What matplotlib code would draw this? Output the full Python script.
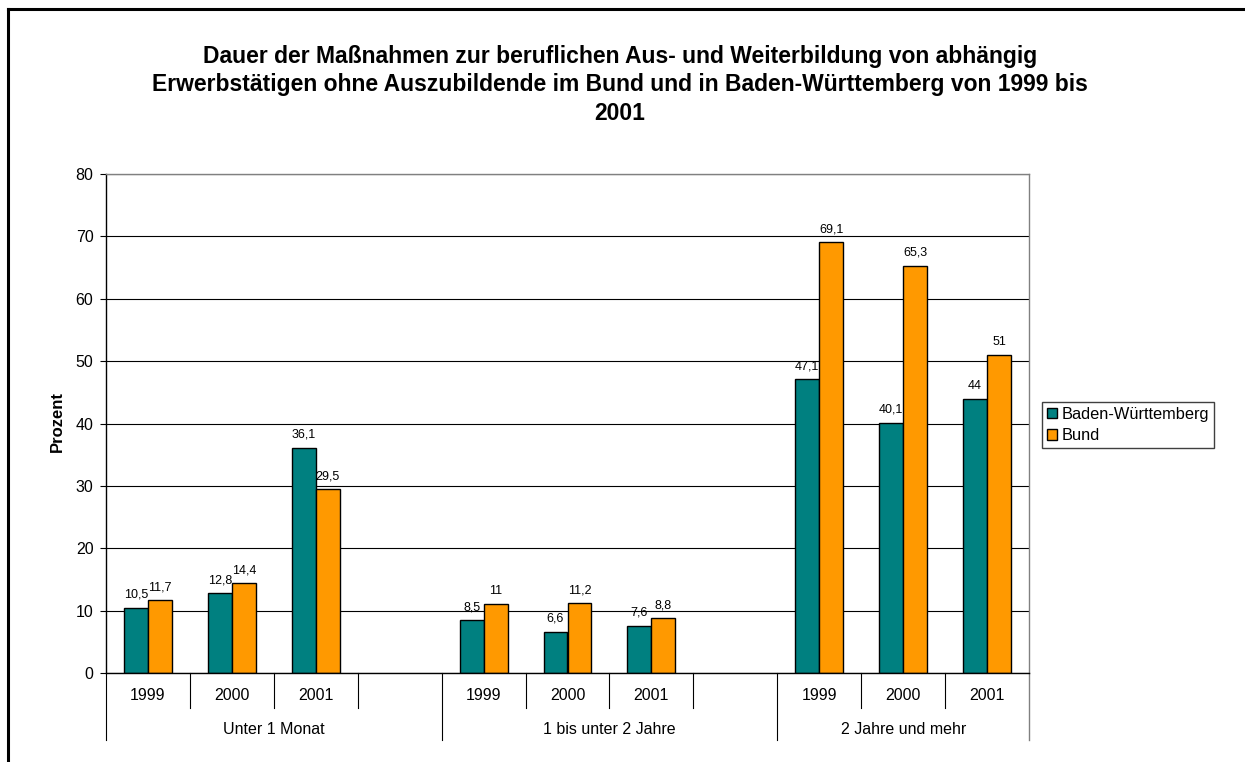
'''
Dauer der Massnahmen zur beruflichen Aus- und Weiterbildung
Excel-style grouped bar chart with two-level category axis
'''
import matplotlib
matplotlib.use("Agg")
import matplotlib.pyplot as plt
from matplotlib.lines import Line2D
from matplotlib.patches import Patch
import matplotlib.transforms as mtransforms

plt.rcParams['font.family'] = ['Liberation Sans', 'DejaVu Sans']

# data
groups = ["Unter 1 Monat", "1 bis unter 2 Jahre", "2 Jahre und mehr"]
years = ["1999", "2000", "2001"]
series_names = ["Baden-Württemberg", "Bund"]
bw = [10.5, 12.8, 36.1, 8.5, 6.6, 7.6, 47.1, 40.1, 44]
bund = [11.7, 14.4, 29.5, 11, 11.2, 8.8, 69.1, 65.3, 51]
yticks = [0, 10, 20, 30, 40, 50, 60, 70, 80]

colors = ["#008080", "#FF9900"]

W, H = 1245, 762
fig = plt.figure(figsize=(W / 100, H / 100), dpi=100)
ax = fig.add_axes([106 / W, 1 - 673 / H, (1029 - 106) / W, (673 - 174) / H])

# slot positions: 4 slots per group, last group has 3
slots = [4 * g + i for g in range(len(groups)) for i in range(len(years))]
bar_w = 24 / 84

def fmt(v):
    return f"{v:g}".replace(".", ",")

for k, (vals, col) in enumerate(zip([bw, bund], colors)):
    xs = [s + (k - 0.5) * bar_w for s in slots]
    ax.bar(xs, vals, width=bar_w, color=col, edgecolor="black",
           linewidth=1.0, zorder=3, label=series_names[k])
    for x, v in zip(xs, vals):
        ax.annotate(fmt(v), (x, v), xytext=(0, 5), textcoords="offset points",
                    ha="center", va="bottom", fontsize=9, zorder=4)

ax.set_xlim(-0.5, 10.5)
ax.set_ylim(0, 80)
ax.set_yticks(yticks)
ax.set_yticklabels([str(t) for t in yticks], fontsize=11.5)
ax.tick_params(axis="y", length=4, width=0.8, pad=5, colors="black")
ax.set_xticks([])
ax.yaxis.grid(True, color="black", linewidth=0.8, zorder=0)
ax.set_axisbelow(True)

ax.spines["left"].set_color("black")
ax.spines["bottom"].set_color("black")
ax.spines["top"].set_color("#808080")
ax.spines["right"].set_color("#808080")
for sp in ax.spines.values():
    sp.set_linewidth(1.0)
    sp.set_zorder(5)

fig.text(57 / W, 1 - 422 / H, "Prozent", rotation=90, ha="center",
         va="center", fontsize=12, fontweight="bold")

# two-level category axis
trans = mtransforms.blended_transform_factory(ax.transData, ax.transAxes)
ah = 673 - 174
inner_len = 35 / ah
outer_len = 67 / ah
for g in range(len(groups)):
    for i in range(len(years)):
        s = 4 * g + i
        ax.text(s, -23 / ah, years[i], transform=trans, ha="center",
                va="center", fontsize=11.5)
        if s + 0.5 < 4 * g + 3.5 and s + 0.5 < 10.5:
            ax.add_line(Line2D([s + 0.5, s + 0.5], [0, -inner_len],
                               transform=trans, color="black",
                               linewidth=0.8, clip_on=False))
    start = 4 * g - 0.5
    end = min(4 * g + 3.5, 10.5)
    ax.text((start + end) / 2, -57 / ah, groups[g], transform=trans,
            ha="center", va="center", fontsize=11.5)
    ax.add_line(Line2D([start, start], [0, -outer_len], transform=trans,
                       color="black", linewidth=0.8, clip_on=False))
ax.add_line(Line2D([10.5, 10.5], [0, -outer_len], transform=trans,
                   color="#808080", linewidth=1.0, clip_on=False))

# title
fig.text(620 / W, 1 - 85 / H,
         "Dauer der Maßnahmen zur beruflichen Aus- und Weiterbildung von abhängig\n"
         "Erwerbstätigen ohne Auszubildende im Bund und in Baden-Württemberg von 1999 bis\n"
         "2001", ha="center", va="center", fontsize=16.5, fontweight="bold",
         linespacing=1.28)

# legend
handles = [Patch(facecolor=c, edgecolor="black", linewidth=1.0) for c in colors]
leg = fig.legend(handles, series_names, loc="lower left",
                 bbox_to_anchor=(1042 / W, 1 - 448 / H), fontsize=11.8,
                 frameon=True, fancybox=False, framealpha=1,
                 edgecolor="#404040", borderaxespad=0, handlelength=0.6,
                 handleheight=0.6, handletextpad=0.3, borderpad=0.3,
                 labelspacing=0.4)
leg.get_frame().set_linewidth(1.0)

# outer frame
fig.add_artist(Line2D([8 / W, 8 / W], [0, 1 - 9 / H], transform=fig.transFigure,
                      color="black", linewidth=2.2))
fig.add_artist(Line2D([8 / W, 1], [1 - 9 / H, 1 - 9 / H], transform=fig.transFigure,
                      color="black", linewidth=2.2))

fig.savefig("out.png", dpi=100)
